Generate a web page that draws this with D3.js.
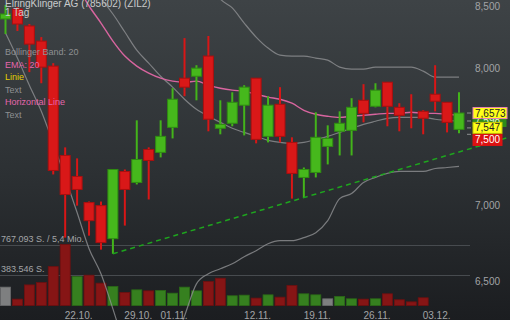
<!DOCTYPE html>
<html>
<head>
<meta charset="utf-8"/>
<script src="https://cdn.jsdelivr.net/npm/d3@7"></script>
<style>
html, body {
  margin: 0;
  padding: 0;
  background: #1e2124;
}
svg {
  display: block;
  font-family: "Liberation Sans", Arial, sans-serif;
}
.band {
  fill: none;
  stroke: #8e9092;
  stroke-width: 1.2;
  stroke-opacity: .8;
}
.ema {
  fill: none;
  stroke: #d8659f;
  stroke-width: 1.4;
}
.trend {
  fill: none;
  stroke: #1ea51e;
  stroke-width: 1.5;
  stroke-dasharray: 5,4;
}
.volref {
  stroke: #474b4f;
  stroke-width: 1;
}
</style>
</head>
<body>

<svg id="chart" width="510" height="320"></svg>

<script type='text/javascript'>

// trading days shown
var dates = ["12.10.","15.10.","16.10.","17.10.","18.10.","19.10.","22.10.","23.10.","24.10.","25.10.",
             "26.10.","29.10.","30.10.","31.10.","01.11.","02.11.","05.11.","06.11.","07.11.","08.11.",
             "09.11.","12.11.","13.11.","14.11.","15.11.","16.11.","19.11.","20.11.","21.11.","22.11.",
             "23.11.","26.11.","27.11.","28.11.","29.11.","30.11.","03.12.","04.12.","05.12."];

var open  = [8.393, 8.475, 8.336, 8.214, 8.016, 7.347, 7.198, 7.017, 6.996, 6.774,
             7.233, 7.156, 7.390, 7.369, 7.551, 7.922, 7.937, 8.095, 7.544, 7.581,
             7.716, 7.922, 7.485, 7.723, 7.441, 7.191, 7.226, 7.412, 7.522, 7.529,
             7.753, 7.708, 7.891, 7.700, 7.676, 7.670, 7.799, 7.738, 7.536];
var high  = [8.509, 8.492, 8.352, 8.246, 8.039, 7.405, 7.326, 7.024, 7.024, 7.247,
             7.247, 7.603, 7.405, 7.603, 7.845, 8.238, 8.023, 8.255, 7.753, 7.814,
             7.868, 7.922, 7.784, 7.853, 7.478, 7.261, 7.663, 7.566, 7.670, 7.769,
             7.876, 7.883, 7.891, 7.731, 7.799, 7.678, 8.023, 7.738, 7.814];
var low   = [8.271, 8.295, 7.969, 7.883, 7.212, 6.781, 6.996, 6.794, 6.702, 6.675,
             6.861, 7.142, 7.038, 7.333, 7.470, 7.784, 7.753, 7.522, 7.500, 7.559,
             7.492, 7.434, 7.441, 7.441, 7.044, 7.051, 7.191, 7.283, 7.347, 7.347,
             7.588, 7.700, 7.559, 7.522, 7.544, 7.500, 7.670, 7.514, 7.507];
var close = [8.434, 8.352, 8.190, 8.008, 7.240, 7.072, 7.107, 6.894, 6.748, 7.247,
             7.107, 7.318, 7.311, 7.485, 7.761, 7.853, 8.000, 7.611, 7.573, 7.738,
             7.853, 7.463, 7.716, 7.485, 7.219, 7.247, 7.478, 7.470, 7.581, 7.700,
             7.655, 7.830, 7.708, 7.640, 7.675, 7.618, 7.746, 7.588, 7.6573];

var volume = [231000, 80000, 259000, 288000, 489000, 767093, 363000, 381000, 281000, 238000,
              163000, 197000, 184000, 188000, 155000, 231000, 184000, 301000, 343000, 122000,
              130000, 93000, 134000, 105000, 251000, 147000, 134000, 84000, 113000, 84000,
              80000, 84000, 147000, 72000, 46000, 97000, 0, 0, 0];
// u = up, d = down, n = unchanged
var volDir = ["n","d","d","d","d","d","u","d","d","u","d","u","d","u","u","u","u","d","d","u",
              "u","d","u","d","d","u","u","n","u","u","d","u","d","d","d","d","n","n","n"];

var ema20 = [9.567, 9.451, 9.331, 9.205, 9.018, 8.833, 8.669, 8.500, 8.360, 8.214,
             8.095, 8.016, 7.961, 7.922, 7.899, 7.891, 7.899, 7.868, 7.845, 7.830,
             7.822, 7.799, 7.777, 7.761, 7.731, 7.678, 7.648, 7.633, 7.625, 7.633,
             7.640, 7.648, 7.655, 7.655, 7.663, 7.655, 7.655, 7.648, 7.640];

var bbMiddle = [8.93, 8.92, 8.90, 8.88, 8.85, 8.80, 8.74, 8.66, 8.56, 8.434,
                8.287, 8.142, 8.039, 7.937, 7.853, 7.761, 7.685, 7.633, 7.588, 7.544,
                7.514, 7.485, 7.456, 7.441, 7.434, 7.441, 7.463, 7.485, 7.514, 7.544,
                7.573, 7.596, 7.618, 7.625, 7.625, 7.625, 7.611, 7.603, 7.596];
var bbUpper = [9.581, 9.761, 9.932, 10.09, 10.266, 10.409, 10.531, 10.612, 10.574, 10.542,
               10.473, 10.331, 10.183, 9.921, 9.605, 9.24, 8.888, 8.72, 8.559, 8.484,
               8.360, 8.246, 8.158, 8.102, 8.095, 8.095, 8.079, 8.063, 8.008, 7.992,
               7.992, 8.008, 8.008, 8.008, 8.008, 7.977, 7.930, 7.930, 7.930];
var bbLower = [8.279, 8.079, 7.868, 7.670, 7.434, 7.191, 6.949, 6.708, 6.546, 6.326,
               6.101, 5.953, 5.895, 5.953, 6.101, 6.282, 6.482, 6.546, 6.578, 6.610,
               6.656, 6.695, 6.741, 6.761, 6.761, 6.781, 6.814, 6.894, 7.044, 7.079,
               7.156, 7.191, 7.219, 7.233, 7.233, 7.233, 7.254, 7.261, 7.269];

// trend line anchors: [candle index, price]
var trendFrom = [9, 6.675];
var trendTo = [25, 7.051];

var yTicks = [6.5, 7, 8, 8.5];
var xTickLabels = ["22.10.", "29.10.", "01.11.", "12.11.", "19.11.", "26.11.", "03.12."];

var volumeRefs = [767093, 383546];
var volumeRefLabels = ["767.093 S. / 5,4 Mio.", "383.546 S."];

var titleLines = ["ElringKlinger AG (785602) (ZIL2)", "1 Tag"];
var legendLabels = ["Bollinger Band: 20", "EMA: 20", "Linie", "Text", "Horizontal Line", "Text"];

var tagValues = [7.598, 7.6573, 7.547, 7.500];
var tagTexts = ["7,598", "7,6573", "7,547", "7,500"];

//---------------------------------------
var W = 510, H = 320, plotRight = 470;
var svg = d3.select("#chart");

var de = d3.formatLocale({decimal: ",", thousands: ".", grouping: [3], currency: ["", "€"]});
var fmt = de.format(".3f");

var x = d3.scaleLinear().domain([0, dates.length - 1]).range([5.5, 459]);
var y = d3.scaleLog().domain([6.5, 8.5]).range([281, 6]);
var yv = d3.scaleLinear().domain([0, 767093]).range([305.5, 244.5]);

// background
var grad = svg.append("defs").append("linearGradient")
    .attr("id", "bg").attr("x1", 0).attr("y1", 0).attr("x2", 0).attr("y2", 1);
grad.append("stop").attr("offset", "0%").attr("stop-color", "#3e4346");
grad.append("stop").attr("offset", "55%").attr("stop-color", "#2c3033");
grad.append("stop").attr("offset", "100%").attr("stop-color", "#1b1d20");
svg.append("rect").attr("width", W).attr("height", H).attr("fill", "url(#bg)");

// volume reference lines
svg.selectAll(".volref")
    .data(volumeRefs)
  .enter().append("line")
    .attr("class", "volref")
    .attr("x1", 0).attr("x2", plotRight)
    .attr("y1", function(d) { return Math.round(yv(d)) + 0.5; })
    .attr("y2", function(d) { return Math.round(yv(d)) + 0.5; });

svg.selectAll(".volref-label")
    .data(volumeRefs)
  .enter().append("text")
    .attr("x", 1)
    .attr("y", function(d) { return yv(d) - 3; })
    .attr("fill", "#a3a5a7")
    .attr("font-size", 9)
    .text(function(d, i) { return volumeRefLabels[i]; });

// volume bars
var volColor = {u: "#36801f", d: "#861515", n: "#7e7f80"};
var volStroke = {u: "#2b6a17", d: "#6e1010", n: "#696a6b"};
svg.append("g").selectAll("rect")
    .data(volume.map(function(v, i) { return {i: i, v: v}; }).filter(function(d) { return d.v > 0; }))
  .enter().append("rect")
    .attr("x", function(d) { return x(d.i) - 5; })
    .attr("width", 10)
    .attr("y", function(d) { return yv(d.v); })
    .attr("height", function(d) { return yv(0) - yv(d.v); })
    .attr("fill", function(d) { return volColor[volDir[d.i]]; })
    .attr("stroke", function(d) { return volStroke[volDir[d.i]]; })
    .attr("stroke-width", 0.8);

// indicator lines
var line = d3.line()
    .x(function(d, i) { return x(i); })
    .y(function(d) { return y(d); })
    .curve(d3.curveMonotoneX);

[bbUpper, bbMiddle, bbLower].forEach(function(s) {
  svg.append("path").datum(s).attr("class", "band").attr("d", line);
});
svg.append("path").datum(ema20).attr("class", "ema").attr("d", line);

// candles
var candles = dates.map(function(d, i) {
  return {i: i, o: open[i], h: high[i], l: low[i], c: close[i], up: close[i] >= open[i]};
});
var g = svg.append("g");
g.selectAll(".wick")
    .data(candles)
  .enter().append("line")
    .attr("x1", function(d) { return x(d.i); })
    .attr("x2", function(d) { return x(d.i); })
    .attr("y1", function(d) { return y(d.h); })
    .attr("y2", function(d) { return y(d.l); })
    .attr("stroke", function(d) { return d.up ? "#43b41a" : "#d81616"; })
    .attr("stroke-width", 2);
g.selectAll(".body")
    .data(candles.filter(function(d) { return Math.abs(y(d.o) - y(d.c)) >= 1; }))
  .enter().append("rect")
    .attr("x", function(d) { return x(d.i) - 5; })
    .attr("width", 10)
    .attr("y", function(d) { return y(Math.max(d.o, d.c)); })
    .attr("height", function(d) { return Math.abs(y(d.o) - y(d.c)); })
    .attr("fill", function(d) { return d.up ? "#46b81c" : "#d91818"; })
    .attr("stroke", function(d) { return d.up ? "#2f8c12" : "#a90f0f"; })
    .attr("stroke-width", 1);

// dashed trend line, extended to the right edge
var tx0 = x(trendFrom[0]), ty0 = y(trendFrom[1]);
var tx1 = x(trendTo[0]), ty1 = y(trendTo[1]);
var txEnd = 508;
svg.append("line")
    .attr("class", "trend")
    .attr("x1", tx0).attr("y1", ty0)
    .attr("x2", txEnd)
    .attr("y2", ty0 + (ty1 - ty0) / (tx1 - tx0) * (txEnd - tx0));

// right price axis
var axis = d3.axisRight(y).tickValues(yTicks).tickFormat(fmt).tickSize(0).tickPadding(0);
var ax = svg.append("g").attr("transform", "translate(475,0)").call(axis);
ax.select(".domain").remove();
ax.selectAll("text")
    .attr("fill", "#a2a4a6")
    .attr("font-size", 10)
    .attr("font-family", "Liberation Sans, Arial, sans-serif");

// x axis labels
svg.selectAll(".xlab")
    .data(xTickLabels)
  .enter().append("text")
    .attr("x", function(d) { return x(dates.indexOf(d)) + 1.5; })
    .attr("y", 319)
    .attr("text-anchor", "middle")
    .attr("fill", "#a2a4a6")
    .attr("font-size", 10)
    .text(function(d) { return d; });

// title + legend
svg.selectAll(".title")
    .data(titleLines)
  .enter().append("text")
    .attr("x", 5)
    .attr("y", function(d, i) { return 6.5 + i * 9; })
    .attr("fill", "#c9cbcc")
    .attr("font-size", 10)
    .text(function(d) { return d; });

var legendColors = ["#8e9092", "#e466ab", "#e3cf00", "#8e9092", "#e466ab", "#8e9092"];
svg.selectAll(".legend")
    .data(legendLabels)
  .enter().append("text")
    .attr("x", 5)
    .attr("y", function(d, i) { return 55 + i * 12.5; })
    .attr("fill", function(d, i) { return legendColors[i]; })
    .attr("font-size", 9)
    .text(function(d) { return d; });

// price tags on the right
var tagStyle = [
  {fill: "#2f8a1a", stroke: "#2f8a1a", text: "#e8f5e0", w: 33},
  {fill: "#ffff1a", stroke: "#e77fb6", text: "#222", w: 34},
  {fill: "#ffff1a", stroke: "#c8c800", text: "#222", w: 29},
  {fill: "#dd1212", stroke: "#dd1212", text: "#ffffff", w: 29}
];
var tagH = 11, prevBottom = -100;
tagValues.forEach(function(v, i) {
  var top = y(v) - tagH / 2;
  if (i > 1) top = Math.max(top, prevBottom + 1);
  if (i > 0) prevBottom = top + tagH;
  svg.append("line")
      .attr("x1", 467).attr("x2", 471)
      .attr("y1", y(v)).attr("y2", y(v))
      .attr("stroke", "#8e9092").attr("stroke-width", 1);
  svg.append("rect")
      .attr("x", 473).attr("y", top)
      .attr("width", tagStyle[i].w).attr("height", tagH)
      .attr("fill", tagStyle[i].fill)
      .attr("stroke", tagStyle[i].stroke)
      .attr("stroke-width", 1);
  svg.append("text")
      .attr("x", 475).attr("y", top + 9)
      .attr("fill", tagStyle[i].text)
      .attr("font-size", 10)
      .text(tagTexts[i]);
});

</script>
</body>
</html>
